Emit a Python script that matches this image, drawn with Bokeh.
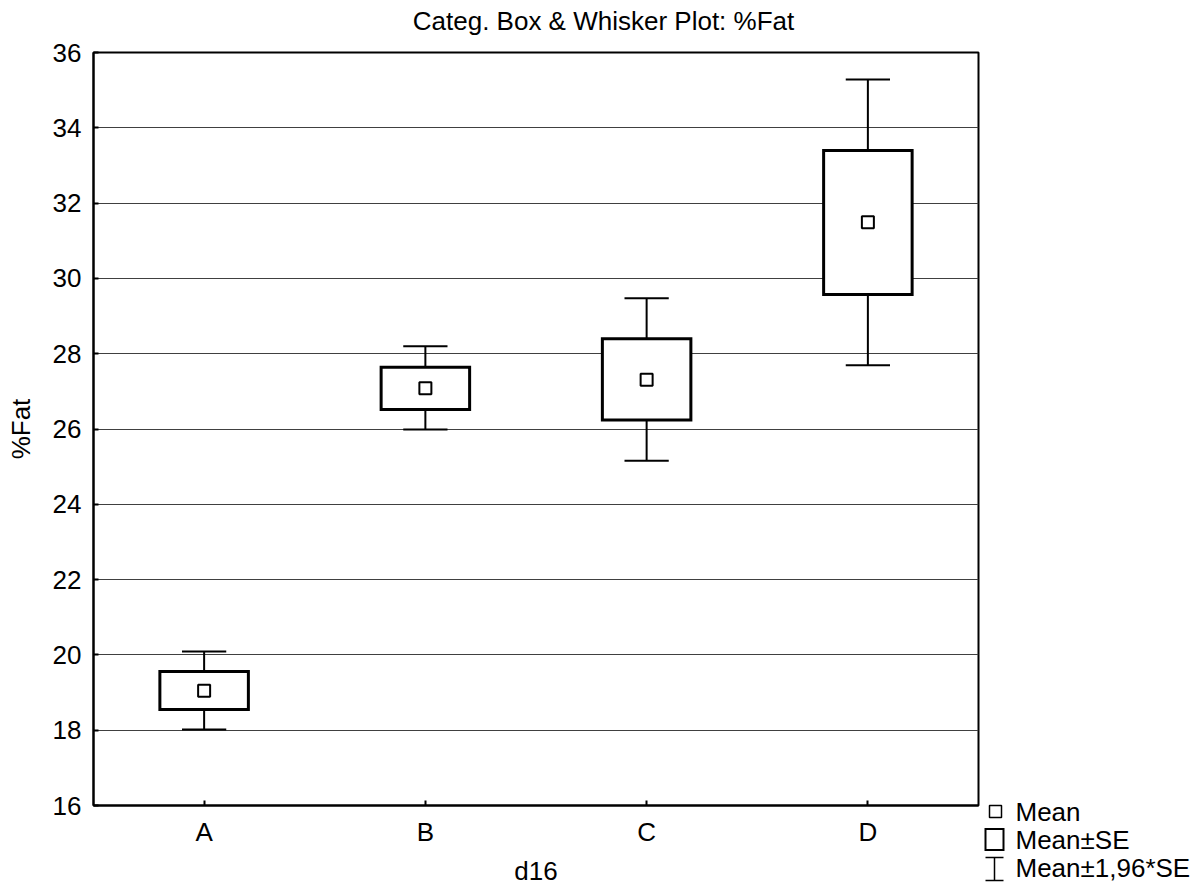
from bokeh.plotting import figure
from bokeh.models import FactorRange, Range1d, FixedTicker, ColumnDataSource
from bokeh.transform import dodge
from bokeh.layouts import row, column
from bokeh.embed import file_html
from bokeh.resources import INLINE
from bokeh.core.properties import value

# ---- data ----
categories = ["A", "B", "C", "D"]
mean = [19.05, 27.08, 27.31, 31.49]
se_low = [18.55, 26.52, 26.24, 29.57]
se_high = [19.56, 27.64, 28.40, 33.40]
ci_low = [18.02, 25.99, 25.16, 27.69]
ci_high = [20.09, 28.20, 29.47, 35.28]
y_ticks = [16, 18, 20, 22, 24, 26, 28, 30, 32, 34, 36]
legend_labels = ["Mean", "Mean\u00b1SE", "Mean\u00b11,96*SE"]
title_text = "Categ. Box & Whisker Plot: %Fat"

FONT = "Liberation Sans"
FS = "26px"
TOP_H = 36


def blank_panel(w, h, y_top, y_bottom):
    f = figure(width=w, height=h, x_range=Range1d(0, w), y_range=Range1d(y_bottom, y_top),
               x_axis_type=None, y_axis_type=None,
               output_backend="svg", toolbar_location=None, min_border=0)
    f.frame_align = False
    f.outline_line_color = None
    f.grid.visible = False
    f.background_fill_color = "white"
    f.border_fill_color = "white"
    return f


# ---- title strip ----
top = blank_panel(1198, TOP_H, 0, TOP_H)
top.text(x=[603], y=[20], text=[title_text], text_font=value(FONT), text_font_size=FS,
         text_align="center", text_baseline="middle", text_color="black")

# ---- main plot ----
src = ColumnDataSource(dict(cat=categories, mean=mean, se_low=se_low, se_high=se_high,
                            ci_low=ci_low, ci_high=ci_high))

p = figure(width=980, height=889 - TOP_H,
           x_range=FactorRange(*categories, range_padding=0),
           y_range=Range1d(16, 36),
           output_backend="svg", toolbar_location=None,
           min_border_left=93, min_border_right=2, min_border_top=52 - TOP_H,
           min_border_bottom=84,
           x_axis_label="d16", y_axis_label="%Fat")
p.frame_align = False

p.outline_line_color = "black"
p.outline_line_width = 2
p.background_fill_color = "white"
p.border_fill_color = "white"

for ax in p.axis:
    ax.axis_line_color = "black"
    ax.axis_line_width = 2
    ax.major_tick_in = 5
    ax.major_tick_out = 0
    ax.major_tick_line_color = "black"
    ax.major_tick_line_width = 2
    ax.minor_tick_in = 0
    ax.minor_tick_out = 0
    ax.major_label_text_font = FONT
    ax.major_label_text_font_size = FS
    ax.major_label_text_color = "black"
    ax.axis_label_text_font = FONT
    ax.axis_label_text_font_size = FS
    ax.axis_label_text_font_style = "normal"
    ax.axis_label_text_color = "black"

p.yaxis.ticker = FixedTicker(ticks=y_ticks)
p.yaxis.major_label_standoff = 12
p.yaxis.axis_label_standoff = 14
p.xaxis.major_label_standoff = 11
p.xaxis.axis_label_standoff = 6

p.xgrid.visible = False
p.ygrid.ticker = FixedTicker(ticks=y_ticks)
p.ygrid.grid_line_color = "#404040"
p.ygrid.grid_line_width = 1

# whiskers (mean +/- 1.96*SE)
p.segment(x0="cat", y0="ci_low", x1="cat", y1="ci_high", source=src,
          line_color="black", line_width=2)
p.segment(x0=dodge("cat", -0.1, range=p.x_range), y0="ci_high",
          x1=dodge("cat", 0.1, range=p.x_range), y1="ci_high", source=src,
          line_color="black", line_width=2)
p.segment(x0=dodge("cat", -0.1, range=p.x_range), y0="ci_low",
          x1=dodge("cat", 0.1, range=p.x_range), y1="ci_low", source=src,
          line_color="black", line_width=2)
# SE boxes
p.vbar(x="cat", bottom="se_low", top="se_high", width=0.4, source=src,
       fill_color="white", line_color="black", line_width=3, line_join="miter")
# means
p.scatter(x="cat", y="mean", marker="square", size=12, source=src,
          fill_color="white", line_color="black", line_width=2)

# ---- legend panel (right of the plot), y in page pixels ----
lg = blank_panel(218, 889 - TOP_H, TOP_H, 889)
lg.scatter(x=[15], y=[811], marker="square", size=12, fill_color="white",
           line_color="black", line_width=1.5)
lg.rect(x=[14], y=[839], width=18, height=21, fill_color="white",
        line_color="black", line_width=2, line_join="miter")
lg.segment(x0=[14, 5, 5], y0=[857, 857, 880], x1=[14, 23, 23], y1=[880, 857, 880],
           line_color="black", line_width=1.5)
lg.text(x=[35, 35, 35], y=[811, 839, 867], text=legend_labels,
        text_font=value(FONT), text_font_size=FS, text_baseline="middle",
        text_color="black")

layout = column(top, row(p, lg))
open("out.html", "w").write(file_html(layout, INLINE))
